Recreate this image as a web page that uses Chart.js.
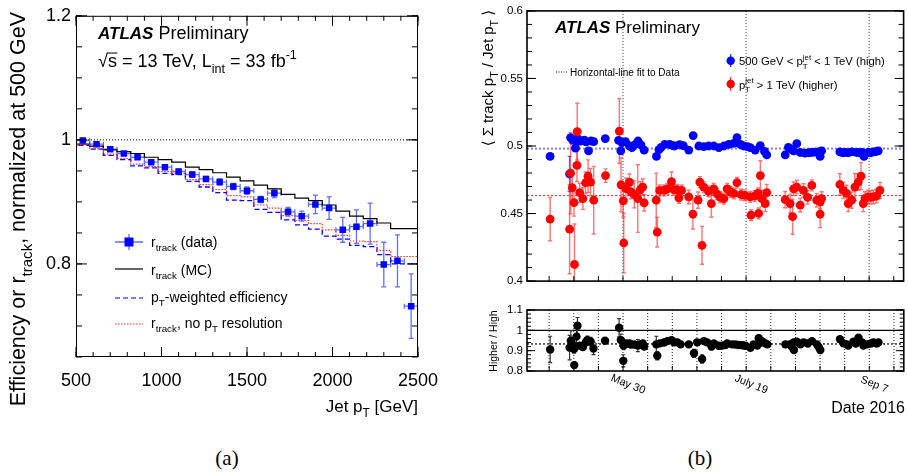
<!DOCTYPE html>
<html>
<head>
<meta charset="utf-8">
<title>ATLAS track ratio</title>
<script src="https://cdn.jsdelivr.net/npm/chart.js@4.4.0/dist/chart.umd.min.js"></script>
<style>
html, body { margin:0; padding:0; background:#fff; }
#page { position:relative; width:908px; height:475px; overflow:hidden; background:#fff; }
.box { position:absolute; }
.cap { position:absolute; width:60px; text-align:center; font-family:'Liberation Serif', serif; font-size:21px; color:#000; line-height:24px; }
</style>
</head>
<body>
<div id="page">
	<div class="box" style="left:0;top:0;width:455px;height:425px"><canvas id="effChart"></canvas></div>
	<div class="box" style="left:455px;top:0;width:453px;height:292px"><canvas id="trackChart"></canvas></div>
	<div class="box" style="left:455px;top:292px;width:453px;height:133px"><canvas id="ratioChart"></canvas></div>
	<div class="cap" style="left:197px;top:446px">(a)</div>
	<div class="cap" style="left:670px;top:446px">(b)</div>
</div>
<script>
// ---------- panel (a): efficiency vs jet pT ----------
const binEdges = [500,580,660,740,820,900,980,1060,1140,1220,1300,1380,1460,1540,1620,1700,1780,1860,1940,2020,2100,2180,2260,2340,2420,2500];
const binCenters = [540,620,700,780,860,940,1020,1100,1180,1260,1340,1420,1500,1580,1660,1740,1820,1900,1980,2060,2140,2220,2300,2380,2460];
const rTrackData = [0.999,0.993,0.985,0.978,0.972,0.964,0.956,0.949,0.944,0.937,0.932,0.925,0.918,0.904,0.914,0.884,0.877,0.896,0.890,0.855,0.860,0.865,0.799,0.805,0.732];
const rTrackDataErr = [0.001,0.002,0.002,0.002,0.003,0.003,0.003,0.004,0.004,0.004,0.005,0.005,0.006,0.005,0.007,0.007,0.008,0.015,0.018,0.020,0.027,0.033,0.036,0.042,0.052];
const rTrackMC = [1.000,0.993,0.990,0.984,0.981,0.978,0.972,0.968,0.964,0.956,0.952,0.947,0.940,0.934,0.927,0.921,0.912,0.906,0.902,0.895,0.885,0.877,0.873,0.866,0.857];
const ptWeightedEff = [1.000,0.991,0.985,0.975,0.968,0.958,0.955,0.946,0.944,0.933,0.924,0.915,0.903,0.902,0.888,0.883,0.871,0.863,0.856,0.845,0.840,0.830,0.828,0.815,0.800];
const rTrackNoRes = [1.000,0.992,0.986,0.977,0.970,0.961,0.957,0.949,0.946,0.936,0.928,0.920,0.910,0.908,0.895,0.890,0.878,0.870,0.865,0.855,0.846,0.837,0.836,0.822,0.812];
const effXTicks = [500,1000,1500,2000,2500];
const effYTicks = [0.8,1.0,1.2];

// ---------- panel (b): <sum track pT / jet pT> vs date (day of year 2016) ----------
const highDays = [121.4,129.3,129.7,130.6,131.1,131.7,132.4,132.6,133.4,134.0,135.3,136.0,137.0,138.0,139.1,143.8,149.2,150.1,150.6,152.0,
	153.6,154.6,156.0,157.1,158.3,159.6,164.6,165.6,166.5,168.0,170.0,171.0,172.0,174.0,175.5,177.7,179.5,181.8,183.8,185.8,
	187.9,189.9,192.0,194.0,196.0,197.3,198.7,200.0,201.5,202.7,204.7,206.8,208.5,209.4,216.9,218.2,219.5,220.3,221.6,223.0,
	225.0,226.5,227.7,229.0,230.4,231.1,231.7,239.1,240.2,241.2,242.5,243.9,245.9,247.0,248.0,248.9,250.6,251.7,252.7,253.7,254.7];
const highVals = [0.4923,0.4793,0.5062,0.5042,0.5045,0.4984,0.5040,0.5055,0.5037,0.5037,0.5044,0.5030,0.4964,0.5037,0.5032,0.5055,0.5042,0.4964,0.5025,0.5032,
	0.5000,0.4988,0.5012,0.5037,0.5008,0.4969,0.4923,0.4973,0.4990,0.5012,0.5012,0.5005,0.5000,0.5010,0.5002,0.4970,0.5077,0.5000,0.4995,0.5000,
	0.5000,0.4988,0.5000,0.5012,0.5020,0.5062,0.5012,0.5000,0.4995,0.4988,0.4970,0.5003,0.4960,0.4934,0.4934,0.4990,0.4975,0.4964,0.5018,0.4952,
	0.4947,0.4950,0.4952,0.4955,0.4956,0.4923,0.4964,0.4956,0.4950,0.4952,0.4950,0.4956,0.4952,0.4950,0.4952,0.4923,0.4952,0.4950,0.4956,0.4958,0.4964];
const highErrs = [0.0015,0.013,0.0020,0.0015,0.0015,0.0015,0.0015,0.0015,0.0015,0.0015,0.0015,0.0015,0.0015,0.0015,0.0015,0.0015,0.0020,0.0015,0.0015,0.0015,
	0.0015,0.0015,0.0015,0.0015,0.0015,0.0015,0.0015,0.0015,0.0015,0.0015,0.0015,0.0015,0.0015,0.0015,0.0015,0.0015,0.0015,0.0015,0.0015,0.0015,
	0.0015,0.0015,0.0015,0.0015,0.0015,0.0015,0.0015,0.0015,0.0015,0.0015,0.0015,0.0015,0.0015,0.0015,0.0015,0.0015,0.0015,0.0015,0.0015,0.0015,
	0.0015,0.0015,0.0015,0.0015,0.0015,0.0015,0.0015,0.0015,0.0015,0.0015,0.0015,0.0015,0.0015,0.0015,0.0015,0.0015,0.0015,0.0015,0.0015,0.0015,0.0015];

const higherDays = [121.4,129.3,129.7,130.4,131.1,131.3,132.3,132.4,133.4,134.7,135.8,136.8,137.8,139.1,143.9,149.5,150.2,151.1,151.3,152.2,
	153.6,154.2,155.6,157.0,158.0,159.0,159.6,164.5,164.9,165.9,167.6,169.0,170.7,171.7,173.0,173.7,174.8,177.7,179.4,181.5,
	182.2,183.1,183.8,185.8,186.9,187.9,189.2,190.5,192.0,193.3,194.6,196.0,197.3,199.0,200.5,202.7,203.0,204.5,205.8,206.1,
	206.8,207.4,208.8,209.4,216.9,218.9,219.9,220.3,221.6,223.0,224.3,226.0,227.7,229.7,231.1,231.1,231.7,239.1,240.5,241.8,
	242.5,243.9,245.2,246.6,247.7,248.6,249.3,250.6,251.6,252.7,254.0,255.4];
const higherVals = [0.4459,0.4384,0.4799,0.4691,0.4581,0.4123,0.4857,0.5106,0.4654,0.4611,0.4728,0.4777,0.4733,0.4599,0.4781,0.5110,0.4713,0.4594,0.4282,0.4684,
	0.4733,0.4660,0.4642,0.4611,0.4676,0.4696,0.4579,0.4599,0.4362,0.4671,0.4671,0.4683,0.4737,0.4676,0.4676,0.4615,0.4671,0.4623,0.4496,0.4599,
	0.4733,0.4265,0.4696,0.4664,0.4574,0.4683,0.4646,0.4620,0.4611,0.4683,0.4660,0.4650,0.4728,0.4640,0.4635,0.4623,0.4488,0.4630,0.4649,0.4501,
	0.4781,0.4611,0.4574,0.4655,0.4603,0.4574,0.4477,0.4683,0.4696,0.4562,0.4671,0.4620,0.4708,0.4599,0.4586,0.4496,0.4611,0.4715,0.4671,0.4649,
	0.4574,0.4599,0.4696,0.4733,0.4777,0.4574,0.4611,0.4623,0.4620,0.4623,0.4630,0.4671];
const higherErrs = [0.016,0.033,0.030,0.010,0.010,0.030,0.012,0.021,0.007,0.008,0.008,0.012,0.010,0.025,0.005,0.024,0.020,0.012,0.022,0.008,
	0.006,0.005,0.010,0.025,0.006,0.006,0.006,0.020,0.011,0.004,0.004,0.004,0.007,0.004,0.004,0.004,0.004,0.005,0.011,0.006,
	0.004,0.014,0.004,0.004,0.010,0.004,0.004,0.004,0.004,0.004,0.004,0.004,0.004,0.004,0.004,0.004,0.004,0.004,0.004,0.004,
	0.011,0.006,0.006,0.006,0.006,0.007,0.013,0.005,0.005,0.005,0.005,0.005,0.004,0.005,0.005,0.010,0.005,0.008,0.006,0.006,
	0.006,0.006,0.010,0.006,0.010,0.006,0.005,0.005,0.005,0.005,0.005,0.006];

const ratioDays = [121.4,129.3,129.8,130.5,131.1,131.2,132.1,132.5,133.4,134.7,135.8,136.5,137.8,139.0,143.7,149.4,150.1,151.1,151.2,152.2,
	153.6,154.2,155.6,157.0,158.0,159.0,159.6,164.5,164.9,165.9,167.6,169.0,170.7,171.7,173.0,174.4,177.7,179.8,181.1,183.1,
	183.8,185.1,186.9,187.9,189.9,191.2,192.6,193.3,195.3,196.6,198.0,199.5,200.7,202.7,204.0,205.5,206.1,206.8,207.4,208.8,
	209.6,216.9,218.5,219.6,220.3,220.4,221.6,223.0,224.3,226.0,227.7,229.7,230.4,231.1,239.1,240.5,241.8,242.5,244.5,245.5,
	246.6,248.0,248.6,250.0,251.6,252.7,254.0,254.7];
const ratioVals = [0.906,0.915,0.949,0.930,0.908,0.829,0.969,1.023,0.925,0.918,0.940,0.952,0.945,0.911,0.949,1.013,0.952,0.850,0.925,0.935,
	0.935,0.930,0.930,0.925,0.930,0.935,0.920,0.931,0.875,0.936,0.940,0.947,0.951,0.941,0.941,0.931,0.931,0.887,0.941,0.859,
	0.947,0.941,0.920,0.935,0.924,0.925,0.928,0.935,0.931,0.930,0.928,0.927,0.924,0.914,0.931,0.925,0.961,0.940,0.947,0.936,
	0.931,0.931,0.931,0.919,0.941,0.903,0.944,0.931,0.941,0.935,0.947,0.931,0.919,0.903,0.956,0.936,0.931,0.925,0.944,0.935,
	0.964,0.941,0.925,0.931,0.935,0.941,0.935,0.941];
const ratioErrs = [0.065,0.060,0.050,0.030,0.020,0.015,0.040,0.040,0.015,0.015,0.015,0.020,0.020,0.030,0.010,0.045,0.030,0.030,0.020,0.015,
	0.010,0.010,0.015,0.030,0.010,0.010,0.010,0.040,0.020,0.008,0.008,0.008,0.010,0.008,0.008,0.008,0.008,0.020,0.010,0.020,
	0.008,0.008,0.015,0.008,0.008,0.008,0.008,0.008,0.008,0.008,0.008,0.008,0.008,0.008,0.008,0.008,0.015,0.015,0.010,0.010,
	0.010,0.010,0.010,0.015,0.010,0.015,0.010,0.010,0.010,0.010,0.010,0.010,0.010,0.015,0.012,0.010,0.010,0.010,0.010,0.010,
	0.012,0.010,0.010,0.010,0.010,0.010,0.010,0.010];

const highFit = 0.4981;
const higherFit = 0.4633;
const ratioFit = 0.933;
const dateTickDays = [151, 201, 251];
const dateTickLabels = ['May 30', 'July 19', 'Sep 7'];
const trackYTicks = [0.4, 0.45, 0.5, 0.55, 0.6];
const ratioYTicks = [0.8, 0.9, 1.0, 1.1];

const FONT = "'Liberation Sans', 'DejaVu Sans', Arial, sans-serif";

// ---------- helpers ----------
function range(a, b, step){
	const out = [];
	for(let v = a; v <= b + step*1e-6; v += step) out.push(+v.toFixed(6));
	return out;
}

// step histogram: one point per lower bin edge plus the closing edge
function stepPoints(edges, vals){
	const pts = vals.map((v,i)=>({x: edges[i], y: v}));
	pts.push({x: edges[edges.length-1], y: vals[vals.length-1]});
	return pts;
}

// split "r_{track}" / "fb^{-1}" into normal, sub and sup pieces
function richSegs(str){
	const segs = []; let buf = '', i = 0;
	while(i < str.length){
		const c = str[i];
		if((c === '_' || c === '^') && str[i+1] === '{'){
			if(buf){ segs.push({t: buf, m: 0}); buf = ''; }
			const j = str.indexOf('}', i);
			segs.push({t: str.slice(i+2, j), m: c === '_' ? -1 : 1});
			i = j + 1;
		} else { buf += c; i++; }
	}
	if(buf) segs.push({t: buf, m: 0});
	return segs;
}

function richText(ctx, str, x, y, size, opt){
	opt = opt || {};
	const segs = richSegs(str);
	const fnt = s => `${opt.style || ''} ${s}px ${FONT}`;
	const pos = []; let w = 0;
	segs.forEach((s,k)=>{
		const sz = s.m ? size*0.7 : size;
		ctx.font = fnt(sz);
		const sw = ctx.measureText(s.t).width;
		if(s.m === 1 && k > 0 && segs[k-1].m === -1){
			const prev = pos[pos.length-1];
			pos.push({x: prev.x, s, sz});
			w += Math.max(prev.w, sw) - prev.w;
		} else {
			pos.push({x: w, w: sw, s, sz});
			w += sw;
		}
	});
	const x0 = x - (opt.align === 'right' ? w : opt.align === 'center' ? w/2 : 0);
	ctx.fillStyle = opt.color || '#000';
	ctx.textAlign = 'left'; ctx.textBaseline = 'alphabetic';
	pos.forEach(p=>{
		ctx.font = fnt(p.sz);
		const dy = p.s.m === -1 ? size*0.32 : p.s.m === 1 ? -size*0.45 : 0;
		ctx.fillText(p.s.t, x0 + p.x, y + dy);
	});
	return w;
}

function rotatedText(ctx, str, x, y, size, opt){
	ctx.save(); ctx.translate(x, y); ctx.rotate(-Math.PI/2);
	richText(ctx, str, 0, 0, size, opt);
	ctx.restore();
}

function drawErrorBars(chart){
	const {ctx, chartArea:a, scales:{x:xs, y:ys}} = chart;
	ctx.save();
	ctx.beginPath(); ctx.rect(a.left, a.top, a.right-a.left, a.bottom-a.top); ctx.clip();
	chart.data.datasets.forEach(ds=>{
		if(!ds.errY) return;
		ctx.strokeStyle = ds.errColor; ctx.lineWidth = ds.errWidth || 1.3;
		const c = ds.errCap || 0;
		ds.data.forEach((p,i)=>{
			const px = xs.getPixelForValue(p.x), py = ys.getPixelForValue(p.y);
			const y1 = ys.getPixelForValue(p.y + ds.errY[i]), y2 = ys.getPixelForValue(p.y - ds.errY[i]);
			ctx.beginPath();
			ctx.moveTo(px, y1); ctx.lineTo(px, y2);
			if(c){ ctx.moveTo(px-c, y1); ctx.lineTo(px+c, y1); ctx.moveTo(px-c, y2); ctx.lineTo(px+c, y2); }
			if(ds.errX){
				const x1 = xs.getPixelForValue(p.x - ds.errX[i]), x2 = xs.getPixelForValue(p.x + ds.errX[i]);
				ctx.moveTo(x1, py); ctx.lineTo(x2, py);
				if(c){ ctx.moveTo(x1, py-c); ctx.lineTo(x1, py+c); ctx.moveTo(x2, py-c); ctx.lineTo(x2, py+c); }
			}
			ctx.stroke();
		});
	});
	ctx.restore();
}

// ROOT style inward tick marks
function drawTickMarks(chart, axis, values, len, sides){
	const {ctx, chartArea:a} = chart, s = chart.scales[axis];
	ctx.beginPath();
	values.forEach(v=>{
		const p = s.getPixelForValue(v);
		if(axis === 'x'){
			if(sides.includes('b')){ ctx.moveTo(p, a.bottom); ctx.lineTo(p, a.bottom-len); }
			if(sides.includes('t')){ ctx.moveTo(p, a.top); ctx.lineTo(p, a.top+len); }
		} else {
			if(sides.includes('l')){ ctx.moveTo(a.left, p); ctx.lineTo(a.left+len, p); }
			if(sides.includes('r')){ ctx.moveTo(a.right, p); ctx.lineTo(a.right-len, p); }
		}
	});
	ctx.stroke();
}

function hLine(chart, v, color, width, dash){
	const {ctx, chartArea:a} = chart, py = chart.scales.y.getPixelForValue(v);
	ctx.save(); ctx.strokeStyle = color; ctx.lineWidth = width; ctx.setLineDash(dash || []);
	ctx.beginPath(); ctx.moveTo(a.left, py); ctx.lineTo(a.right, py); ctx.stroke(); ctx.restore();
}
function vLine(chart, v, color, width, dash){
	const {ctx, chartArea:a} = chart, px = chart.scales.x.getPixelForValue(v);
	ctx.save(); ctx.strokeStyle = color; ctx.lineWidth = width; ctx.setLineDash(dash || []);
	ctx.beginPath(); ctx.moveTo(px, a.top); ctx.lineTo(px, a.bottom); ctx.stroke(); ctx.restore();
}

function baseOptions(){
	return {
		responsive: true, maintainAspectRatio: false, animation: false, devicePixelRatio: 1, events: [],
		plugins: { legend: { display: false }, tooltip: { enabled: false } }
	};
}
function fixedTicks(list){ return s => { s.ticks = list.map(v=>({value: v})); }; }
function tickFont(size){ return { family: FONT, size: size }; }
const noGrid = { display: false, drawTicks: false };

// ---------- chart (a) ----------
const effDecor = {
	id: 'effDecor',
	beforeDatasetsDraw(chart){
		hLine(chart, 1.0, '#000', 1, [1,2]);
		drawErrorBars(chart);
	},
	afterDraw(chart){
		const {ctx, chartArea:a} = chart;
		ctx.save();
		ctx.strokeStyle = '#000'; ctx.lineWidth = 1;
		ctx.strokeRect(a.left+0.5, a.top+0.5, a.right-a.left-1, a.bottom-a.top-1);
		drawTickMarks(chart, 'x', range(500, 2500, 100), 5, 'bt');
		drawTickMarks(chart, 'x', effXTicks, 10, 'bt');
		drawTickMarks(chart, 'y', range(0.65, 1.2, 0.05), 6, 'lr');
		drawTickMarks(chart, 'y', effYTicks, 11, 'lr');

		// labels
		ctx.font = `bold italic 17px ${FONT}`; ctx.fillStyle = '#000'; ctx.textAlign = 'left'; ctx.textBaseline = 'alphabetic';
		ctx.fillText('ATLAS', 98, 39);
		const atlasW = ctx.measureText('ATLAS').width;
		richText(ctx, 'Preliminary', 98 + atlasW + 5, 39, 18);
		const sx = 98, sy = 67;
		richText(ctx, '√s = 13 TeV, L_{int} = 33 fb^{-1}', sx, sy, 18);
		ctx.font = `18px ${FONT}`;
		const w1 = ctx.measureText('√').width, w2 = ctx.measureText('s').width;
		ctx.lineWidth = 1; ctx.beginPath(); ctx.moveTo(sx + w1 - 1, sy - 14); ctx.lineTo(sx + w1 + w2 + 0.5, sy - 14); ctx.stroke();

		// legend
		ctx.strokeStyle = 'rgba(30,50,255,0.7)'; ctx.lineWidth = 1.3;
		ctx.beginPath(); ctx.moveTo(115, 242); ctx.lineTo(143, 242); ctx.moveTo(129, 234); ctx.lineTo(129, 250); ctx.stroke();
		ctx.fillStyle = '#0000ff'; ctx.fillRect(124.5, 237.5, 9, 9);
		richText(ctx, 'r_{track} (data)', 151, 247, 14);
		ctx.strokeStyle = '#000'; ctx.lineWidth = 1.2;
		ctx.beginPath(); ctx.moveTo(115, 269); ctx.lineTo(143, 269); ctx.stroke();
		richText(ctx, 'r_{track} (MC)', 151, 275, 14);
		ctx.strokeStyle = '#0000ff'; ctx.setLineDash([5,3]);
		ctx.beginPath(); ctx.moveTo(115, 298); ctx.lineTo(143, 298); ctx.stroke();
		richText(ctx, 'p_{T}-weighted efficiency', 151, 302, 14);
		ctx.strokeStyle = '#ff3030'; ctx.setLineDash([1.5,1.5]);
		ctx.beginPath(); ctx.moveTo(115, 324); ctx.lineTo(143, 324); ctx.stroke();
		ctx.setLineDash([]);
		richText(ctx, 'r_{track}, no p_{T} resolution', 151, 328, 14);

		// axis titles
		richText(ctx, 'Jet p_{T} [GeV]', 418, 412, 17, {align: 'right'});
		rotatedText(ctx, 'Efficiency or r_{track}, normalized at 500 GeV', 25, 12, 21.5, {align: 'right'});
		ctx.restore();
	}
};

new Chart(document.getElementById('effChart'), {
	type: 'line',
	data: { datasets: [
		{ data: binCenters.map((x,i)=>({x, y: rTrackData[i]})), showLine: false, pointStyle: 'rect', pointRadius: 4.6,
		  backgroundColor: '#0000ff', borderColor: '#0000ff', pointBorderWidth: 0, order: 0,
		  errY: rTrackDataErr, errX: binCenters.map((c,i)=>(binEdges[i+1]-binEdges[i])/2), errColor: 'rgba(30,50,255,0.7)', errCap: 2.5 },
		{ data: stepPoints(binEdges, rTrackMC), stepped: 'after', borderColor: '#000', borderWidth: 1.2, pointRadius: 0, order: 3 },
		{ data: stepPoints(binEdges, ptWeightedEff), stepped: 'after', borderColor: '#0000ff', borderWidth: 1.3, borderDash: [5,3], pointRadius: 0, order: 2 },
		{ data: stepPoints(binEdges, rTrackNoRes), stepped: 'after', borderColor: '#ff3030', borderWidth: 1.2, borderDash: [1.5,1.5], pointRadius: 0, order: 1 }
	]},
	options: Object.assign(baseOptions(), {
		layout: { padding: { left: 0, top: 13, right: 37, bottom: 0 } },
		scales: {
			x: { type: 'linear', min: 500, max: 2500, bounds: 'data', afterBuildTicks: fixedTicks(effXTicks),
			     ticks: { font: tickFont(18), color: '#000', padding: 13, maxRotation: 0, autoSkip: false, callback: v => String(v) },
			     grid: noGrid, border: { display: false }, afterFit: s => { s.height = 68; } },
			y: { type: 'linear', min: 0.65, max: 1.2, bounds: 'data', afterBuildTicks: fixedTicks(effYTicks),
			     ticks: { font: tickFont(18), color: '#000', padding: 5, autoSkip: false, callback: v => String(+v.toFixed(2)) },
			     grid: noGrid, border: { display: false }, afterFit: s => { s.width = 76; } }
		}
	}),
	plugins: [effDecor]
});

// ---------- chart (b) top ----------
const trackDecor = {
	id: 'trackDecor',
	beforeDatasetsDraw(chart){
		dateTickDays.forEach(d => vLine(chart, d, '#333', 1, [1,2]));
		hLine(chart, highFit, '#7f7fff', 2, [2,2]);
		hLine(chart, higherFit, '#ff2020', 1, [2,2]);
		drawErrorBars(chart);
	},
	afterDraw(chart){
		const {ctx, chartArea:a} = chart;
		ctx.save();
		ctx.strokeStyle = '#000'; ctx.lineWidth = 1.6;
		ctx.strokeRect(a.left, a.top, a.right-a.left, a.bottom-a.top);
		ctx.lineWidth = 1;
		drawTickMarks(chart, 'y', range(0.4, 0.6, 0.01), 5, 'lr');
		drawTickMarks(chart, 'y', trackYTicks, 9, 'lr');
		drawTickMarks(chart, 'x', range(121, 261, 10), 5, 'b');

		ctx.font = `bold italic 17px ${FONT}`; ctx.fillStyle = '#000'; ctx.textAlign = 'left'; ctx.textBaseline = 'alphabetic';
		ctx.fillText('ATLAS', 100, 33);
		richText(ctx, 'Preliminary', 160, 33, 17);

		ctx.strokeStyle = '#000'; ctx.setLineDash([1,1.5]);
		ctx.beginPath(); ctx.moveTo(101, 72); ctx.lineTo(112, 72); ctx.stroke(); ctx.setLineDash([]);
		richText(ctx, 'Horizontal-line fit to Data', 115, 75.5, 10);

		ctx.strokeStyle = '#0000ff'; ctx.beginPath(); ctx.moveTo(275.7, 54); ctx.lineTo(275.7, 67); ctx.stroke();
		ctx.fillStyle = '#0000ff'; ctx.beginPath(); ctx.arc(275.7, 60.7, 4.2, 0, Math.PI*2); ctx.fill();
		richText(ctx, '500 GeV < p_{T}^{jet} < 1 TeV (high)', 284, 65, 11.3);
		ctx.strokeStyle = '#ff0000'; ctx.beginPath(); ctx.moveTo(275.7, 77); ctx.lineTo(275.7, 91); ctx.stroke();
		ctx.fillStyle = '#ff0000'; ctx.beginPath(); ctx.arc(275.7, 84, 4.2, 0, Math.PI*2); ctx.fill();
		richText(ctx, 'p_{T}^{jet} > 1 TeV (higher)', 284, 88.5, 11.3);

		rotatedText(ctx, '⟨ Σ track p_{T} / Jet p_{T} ⟩', 38, 10, 15, {align: 'right'});
		ctx.restore();
	}
};

new Chart(document.getElementById('trackChart'), {
	type: 'scatter',
	data: { datasets: [
		{ data: higherDays.map((x,i)=>({x, y: higherVals[i]})), pointRadius: 4.4, backgroundColor: '#ff0000', pointBorderWidth: 0, order: 0,
		  errY: higherErrs, errColor: 'rgba(255,40,40,0.65)', errWidth: 1.4, errCap: 2 },
		{ data: highDays.map((x,i)=>({x, y: highVals[i]})), pointRadius: 4.4, backgroundColor: '#0000ff', pointBorderWidth: 0, order: 1,
		  errY: highErrs, errColor: 'rgba(30,50,255,0.75)', errWidth: 1.4, errCap: 2 }
	]},
	options: Object.assign(baseOptions(), {
		layout: { padding: { left: 0, top: 10, right: 3, bottom: 0 } },
		scales: {
			x: { type: 'linear', min: 112, max: 265, bounds: 'data', ticks: { display: false }, grid: noGrid, border: { display: false },
			     afterFit: s => { s.height = 9; } },
			y: { type: 'linear', min: 0.4, max: 0.6, bounds: 'data', afterBuildTicks: fixedTicks(trackYTicks),
			     ticks: { font: tickFont(11.5), color: '#000', padding: 4, autoSkip: false, callback: v => String(+v.toFixed(3)) },
			     grid: noGrid, border: { display: false }, afterFit: s => { s.width = 72; } }
		}
	}),
	plugins: [trackDecor]
});

// ---------- chart (b) ratio ----------
const ratioDecor = {
	id: 'ratioDecor',
	beforeDatasetsDraw(chart){
		range(121, 261, 10).forEach(d => vLine(chart, d, '#222', 1, [1,2]));
		hLine(chart, 1.0, '#000', 1.3);
		hLine(chart, ratioFit, '#000', 1.2, [2,2]);
		drawErrorBars(chart);
	},
	afterDraw(chart){
		const {ctx, chartArea:a, scales:{x}} = chart;
		ctx.save();
		ctx.strokeStyle = '#000'; ctx.lineWidth = 1.6;
		ctx.strokeRect(a.left, a.top, a.right-a.left, a.bottom-a.top);
		ctx.lineWidth = 1;
		drawTickMarks(chart, 'y', range(0.8, 1.1, 0.02), 4, 'lr');
		drawTickMarks(chart, 'y', ratioYTicks, 8, 'lr');
		drawTickMarks(chart, 'x', range(121, 261, 10), 5, 'b');

		ctx.fillStyle = '#000'; ctx.font = `11px ${FONT}`; ctx.textAlign = 'center'; ctx.textBaseline = 'middle';
		dateTickDays.forEach((d,i)=>{
			ctx.save();
			ctx.translate(x.getPixelForValue(d) + 5, 92.5);
			ctx.rotate(22*Math.PI/180);
			ctx.fillText(dateTickLabels[i], 0, 0);
			ctx.restore();
		});
		richText(ctx, 'Date 2016', 450, 121, 16, {align: 'right'});
		rotatedText(ctx, 'Higher / High', 42, 49, 10.5, {align: 'center'});
		ctx.restore();
	}
};

new Chart(document.getElementById('ratioChart'), {
	type: 'scatter',
	data: { datasets: [
		{ data: ratioDays.map((x,i)=>({x, y: ratioVals[i]})), pointRadius: 4.2, backgroundColor: '#000', pointBorderWidth: 0,
		  errY: ratioErrs, errColor: '#333', errWidth: 1.2, errCap: 2 }
	]},
	options: Object.assign(baseOptions(), {
		layout: { padding: { left: 0, top: 18, right: 3, bottom: 0 } },
		scales: {
			x: { type: 'linear', min: 112, max: 265, bounds: 'data', ticks: { display: false }, grid: noGrid, border: { display: false },
			     afterFit: s => { s.height = 54; } },
			y: { type: 'linear', min: 0.8, max: 1.1, bounds: 'data', afterBuildTicks: fixedTicks(ratioYTicks),
			     ticks: { font: tickFont(11.5), color: '#000', padding: 4, autoSkip: false, callback: v => String(+v.toFixed(2)) },
			     grid: noGrid, border: { display: false }, afterFit: s => { s.width = 72; } }
		}
	}),
	plugins: [ratioDecor]
});
</script>
</body>
</html>
